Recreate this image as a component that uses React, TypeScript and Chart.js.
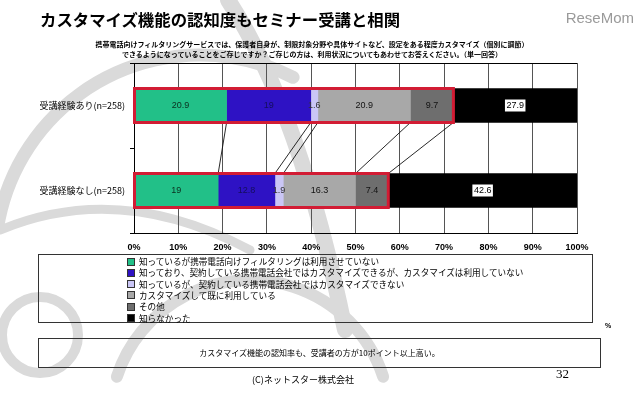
import React, { useEffect, useRef } from 'react';
import { Chart, registerables } from 'chart.js';

Chart.register(...registerables);

// ---- data ----
const categories = ['受講経験あり(n=258)', '受講経験なし(n=258)'];
const seriesLabels = [
  '知っているが携帯電話向けフィルタリングは利用させていない',
  '知っており、契約している携帯電話会社ではカスタマイズできるが、カスタマイズは利用していない',
  '知っているが、契約している携帯電話会社ではカスタマイズできない',
  'カスタマイズして既に利用している',
  'その他',
  '知らなかった',
];
const knownNotFiltering = [20.9, 19];
const canCustomizeNotUsing = [19, 12.8];
const cannotCustomize = [1.6, 1.9];
const customizedUsing = [20.9, 16.3];
const otherAnswer = [9.7, 7.4];
const didNotKnow = [27.9, 42.6];
const tickValues = [0, 10, 20, 30, 40, 50, 60, 70, 80, 90, 100];

const seriesColors = ['#22C088', '#2E12C4', '#CAC6F6', '#A8A8A8', '#6E6E6E', '#000000'];
const labelColors = ['#0B2E1E', '#140E5C', '#333333', '#111111', '#111111', '#000000'];

const JP = '"Noto Sans CJK JP", "Noto Sans", sans-serif';

const decorPlugin = {
  id: 'decor',
  beforeDraw(chart: any) {
    const ctx = chart.ctx;
    ctx.save();
    ctx.strokeStyle = '#dadada';
    ctx.lineCap = 'round';
    ctx.lineWidth = 13;
    ctx.beginPath();
    ctx.arc(200, 260, 205, Math.PI * 1.05, Math.PI * 1.65);
    ctx.stroke();
    ctx.lineWidth = 10;
    ctx.beginPath();
    ctx.arc(40, 335, 38, 0, Math.PI * 2);
    ctx.stroke();
    ctx.lineWidth = 16;
    ctx.beginPath();
    ctx.moveTo(228, 0);
    ctx.quadraticCurveTo(300, 110, 345, 330);
    ctx.stroke();
    ctx.lineWidth = 12;
    ctx.beginPath();
    ctx.arc(250, 420, 140, Math.PI * 1.1, Math.PI * 1.9);
    ctx.stroke();
    ctx.lineWidth = 9;
    ctx.beginPath();
    ctx.moveTo(0, 230);
    ctx.quadraticCurveTo(120, 180, 250, 250);
    ctx.stroke();
    ctx.restore();
  },
  afterDatasetsDraw(chart: any) {
    const ctx = chart.ctx;
    const area = chart.chartArea;
    const metas = chart.data.datasets.map((_: any, i: number) => chart.getDatasetMeta(i));
    const bar = (d: number, i: number) => metas[d].data[i].getProps(['x', 'y', 'base', 'height'], true);
    ctx.save();
    // top border
    ctx.strokeStyle = '#000';
    ctx.lineWidth = 1;
    ctx.beginPath();
    ctx.moveTo(area.left, area.top + 0.5);
    ctx.lineTo(area.right, area.top + 0.5);
    ctx.stroke();
    // series connecting lines
    const b0 = bar(0, 0);
    const b1 = bar(0, 1);
    const y1 = b0.y + b0.height / 2;
    const y2 = b1.y - b1.height / 2;
    ctx.lineWidth = 0.9;
    ctx.strokeStyle = '#111';
    for (let d = 0; d < 5; d++) {
      ctx.beginPath();
      ctx.moveTo(bar(d, 0).x, y1);
      ctx.lineTo(bar(d, 1).x, y2);
      ctx.stroke();
    }
    // red outlines
    ctx.strokeStyle = '#D21C34';
    ctx.lineWidth = 3;
    for (let i = 0; i < categories.length; i++) {
      const first = bar(0, i);
      const last = bar(4, i);
      ctx.strokeRect(first.base, first.y - first.height / 2, last.x - first.base, first.height);
    }
    // value labels
    ctx.font = '9px "Liberation Sans", Arial, sans-serif';
    ctx.textAlign = 'center';
    ctx.textBaseline = 'middle';
    chart.data.datasets.forEach((ds: any, d: number) => {
      ds.data.forEach((v: number, i: number) => {
        const b = bar(d, i);
        const cx = (b.x + b.base) / 2;
        const txt = String(v);
        if (d === 5) {
          const w = ctx.measureText(txt).width + 3;
          ctx.fillStyle = '#fff';
          ctx.fillRect(cx - w / 2, b.y - 6, w, 12);
        }
        ctx.fillStyle = labelColors[d];
        ctx.fillText(txt, cx, b.y + 0.5);
      });
    });
    ctx.restore();
  },
};

export default function App() {
  const ref = useRef<HTMLCanvasElement>(null);
  useEffect(() => {
    document.body.style.margin = '0';
    const values = [knownNotFiltering, canCustomizeNotUsing, cannotCustomize, customizedUsing, otherAnswer, didNotKnow];
    const chart = new Chart(ref.current as HTMLCanvasElement, {
      type: 'bar',
      data: {
        labels: categories,
        datasets: values.map((data, i) => ({
          label: seriesLabels[i],
          data,
          backgroundColor: seriesColors[i],
          borderWidth: 0,
          barThickness: 34,
        })),
      },
      options: {
        indexAxis: 'y',
        responsive: false,
        animation: false,
        layout: { padding: { left: 0, right: 63, top: 63, bottom: 146 } },
        plugins: { legend: { display: false }, tooltip: { enabled: false } },
        scales: {
          x: {
            stacked: true,
            min: 0,
            max: 100,
            afterBuildTicks: (s: any) => {
              s.ticks = tickValues.map((v) => ({ value: v }));
            },
            afterFit: (s: any) => {
              s.height = 24;
            },
            ticks: {
              callback: (v: any) => v + '%',
              color: '#000',
              font: { size: 9, family: '"Liberation Sans", Arial, sans-serif', weight: 'bold' },
              padding: 9,
              maxRotation: 0,
            },
            grid: { color: '#555', lineWidth: 1, drawTicks: false },
            border: { color: '#000', width: 1 },
          },
          y: {
            stacked: true,
            offset: true,
            afterFit: (s: any) => {
              s.width = 134;
            },
            ticks: { color: '#000', font: { size: 9, family: JP }, padding: 5 },
            grid: { offset: true, drawOnChartArea: false, drawTicks: true, tickLength: 4, color: '#000' },
            border: { color: '#000', width: 1 },
          },
        },
      },
      plugins: [decorPlugin],
    } as any);
    return () => chart.destroy();
  }, []);

  const abs = (s: React.CSSProperties): React.CSSProperties => ({ position: 'absolute', whiteSpace: 'nowrap', ...s });

  return (
    <div style={{ position: 'relative', width: 640, height: 403, background: '#fff', overflow: 'hidden', fontFamily: JP, color: '#000' }}>
      <canvas ref={ref} width={640} height={403} style={{ position: 'absolute', left: 0, top: 0 }} />
      <div style={abs({ left: 40, top: 6, fontSize: 16.4, fontWeight: 'bold', lineHeight: '26px' })}>
        カスタマイズ機能の認知度もセミナー受講と相関
      </div>
      <div style={abs({ right: 6, top: 7, fontSize: 15, color: '#9a9a9a', fontFamily: '"Liberation Sans", Arial, sans-serif', lineHeight: '22px' })}>
        ReseMom
      </div>
      <div style={abs({ left: 0, width: 624, top: 39, textAlign: 'center', fontSize: 7, fontWeight: 'bold', lineHeight: '10px' })}>
        携帯電話向けフィルタリングサービスでは、保護者自身が、制限対象分野や具体サイトなど、設定をある程度カスタマイズ（個別に調節）
        <br />
        できるようになっていることをご存じですか？ご存じの方は、利用状況についてもあわせてお答えください。（単一回答）
      </div>
      <div style={abs({ left: 38, top: 254, width: 555, height: 69, border: '1px solid #333', boxSizing: 'border-box' })}>
        {seriesLabels.map((l, i) => (
          <div key={i} style={abs({ left: 88, top: 1 + i * 11.3, fontSize: 8.6, lineHeight: '11px', display: 'flex', alignItems: 'center' })}>
            <span style={{ display: 'inline-block', width: 6, height: 6, background: seriesColors[i], border: '1px solid #333', marginRight: 4 }} />
            {l}
          </div>
        ))}
      </div>
      <div style={abs({ left: 605, top: 322, fontSize: 7, fontWeight: 'bold', fontFamily: '"Liberation Sans", Arial, sans-serif' })}>%</div>
      <div style={abs({ left: 38, top: 338, width: 563, height: 30, border: '1px solid #333', boxSizing: 'border-box', textAlign: 'center', fontSize: 8, lineHeight: '28px' })}>
        カスタマイズ機能の認知率も、受講者の方が10ポイント以上高い。
      </div>
      <div style={abs({ left: 0, width: 606, top: 373, textAlign: 'center', fontSize: 9, lineHeight: '14px' })}>
        (C)ネットスター株式会社
      </div>
      <div style={abs({ left: 556, top: 366, fontSize: 13, fontFamily: '"Liberation Serif", serif', lineHeight: '16px' })}>32</div>
    </div>
  );
}
